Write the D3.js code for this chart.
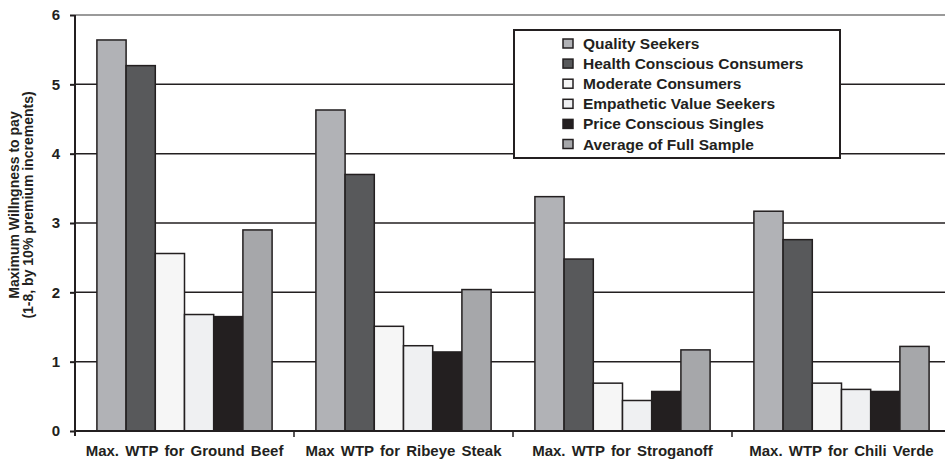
<!DOCTYPE html>
<html>
<head>
<meta charset="utf-8">
<script src="https://cdn.jsdelivr.net/npm/d3@7"></script>
<style>
  html, body { margin: 0; padding: 0; background: #fff; }
  svg text { font-family: "Liberation Sans", Arial, sans-serif; font-weight: bold; fill: #231f20; }
</style>
</head>
<body>
<svg id="chart" width="945" height="462"></svg>
<script>
const categories = ["Max. WTP for Ground Beef", "Max WTP for Ribeye Steak", "Max. WTP for Stroganoff", "Max. WTP for Chili Verde"];
const seriesNames = ["Quality Seekers", "Health Conscious Consumers", "Moderate Consumers", "Empathetic Value Seekers", "Price Conscious Singles", "Average of Full Sample"];
const qualitySeekers   = [5.64, 4.63, 3.38, 3.17];
const healthConscious  = [5.27, 3.70, 2.48, 2.76];
const moderateConsumers = [2.56, 1.51, 0.69, 0.69];
const empatheticValue  = [1.68, 1.23, 0.44, 0.60];
const priceConscious   = [1.65, 1.14, 0.57, 0.57];
const fullSampleAvg    = [2.90, 2.04, 1.17, 1.22];
const yTicks = [0, 1, 2, 3, 4, 5, 6];
const colors = ["#b1b2b6", "#58595b", "#f6f6f6", "#eff0f2", "#231f20", "#a6a7aa"];

const seriesValues = [qualitySeekers, healthConscious, moderateConsumers, empatheticValue, priceConscious, fullSampleAvg];
const dark = "#231f20";

const svg = d3.select("#chart");
const mLeft = 75, mRight = 951, mTop = 15, mBottom = 431;

const x0 = d3.scaleBand().domain(categories).range([mLeft, mRight]).padding(0);
const x1 = d3.scaleBand().domain(seriesNames).range([0, x0.bandwidth()]).paddingInner(0).paddingOuter(0.75);
const y = d3.scaleLinear().domain([0, 6]).range([mBottom, mTop]);

// gridlines
svg.append("g").selectAll("line").data(yTicks.filter(t => t > 0)).join("line")
  .attr("x1", mLeft).attr("x2", 945)
  .attr("y1", d => y(d)).attr("y2", d => y(d))
  .attr("stroke", d => d === 6 ? "#9a9a9a" : dark)
  .attr("stroke-width", d => d === 6 ? 2 : 1.5);

// bars
const rows = [];
categories.forEach((c, ci) => seriesNames.forEach((s, si) => rows.push({c, s, si, v: seriesValues[si][ci]})));
svg.append("g").selectAll("rect").data(rows).join("rect")
  .attr("x", d => x0(d.c) + x1(d.s))
  .attr("y", d => y(d.v))
  .attr("width", x1.bandwidth())
  .attr("height", d => y(0) - y(d.v))
  .attr("fill", d => colors[d.si])
  .attr("stroke", dark).attr("stroke-width", 1.5);

// y axis
const yAxis = svg.append("g").attr("transform", `translate(${mLeft},0)`)
  .call(d3.axisLeft(y).tickValues(yTicks).tickFormat(d3.format("d")).tickSize(5).tickPadding(10));
yAxis.select(".domain").attr("stroke", dark).attr("stroke-width", 2).attr("d", `M0,${mTop}V${mBottom + 5}`);
yAxis.selectAll(".tick line").attr("stroke", dark).attr("stroke-width", 2);
yAxis.selectAll(".tick text").style("font-size", "15px").attr("fill", dark);

// x axis
const xAxis = svg.append("g").attr("transform", `translate(0,${mBottom})`)
  .call(d3.axisBottom(x0).tickSize(0).tickPadding(14));
xAxis.select(".domain").remove();
xAxis.append("line").attr("x1", mLeft).attr("x2", 945).attr("y1", 0).attr("y2", 0)
  .attr("stroke", dark).attr("stroke-width", 2);
xAxis.selectAll("line.bnd").data(categories.slice(1)).join("line").attr("class", "bnd")
  .attr("x1", d => x0(d)).attr("x2", d => x0(d)).attr("y1", 0).attr("y2", 6)
  .attr("stroke", dark).attr("stroke-width", 1.5);
xAxis.selectAll(".tick text").style("font-size", "15px").style("word-spacing", "2px").attr("fill", dark);

// y title
const yt = svg.append("text").attr("transform", `translate(14,205) rotate(-90)`)
  .attr("text-anchor", "middle").style("font-size", "14px");
yt.append("tspan").attr("x", 0).attr("dy", "0.35em").text("Maximum Willngness to pay");
yt.append("tspan").attr("x", 0).attr("dy", "1.0em").text("(1-8, by 10% premium increments)");

// legend
const lg = svg.append("g");
lg.append("rect").attr("x", 514).attr("y", 30).attr("width", 326).attr("height", 128)
  .attr("fill", "#fff").attr("stroke", dark).attr("stroke-width", 2);
const items = lg.selectAll("g.item").data(seriesNames).join("g").attr("class", "item")
  .attr("transform", (d, i) => `translate(563,${43.5 + i * 20.1})`);
items.append("rect").attr("x", 0).attr("y", -4.5).attr("width", 10).attr("height", 9)
  .attr("fill", (d, i) => colors[i]).attr("stroke", dark).attr("stroke-width", 1.5);
items.append("text").attr("x", 20).attr("y", 0).attr("dy", "0.36em")
  .style("font-size", "15.5px").text(d => d);
</script>
</body>
</html>
